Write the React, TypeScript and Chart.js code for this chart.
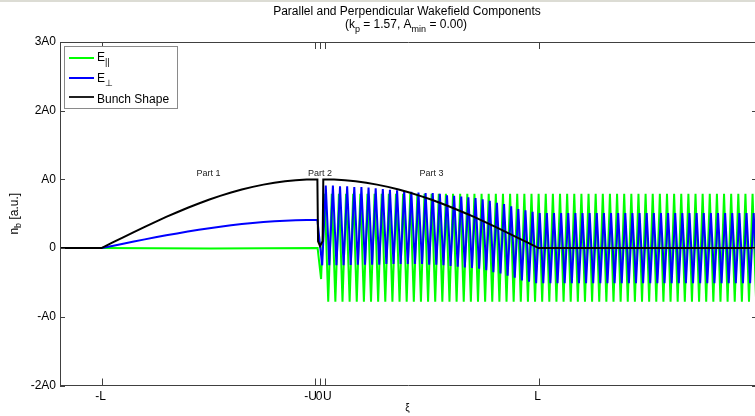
import React, { useEffect, useRef } from 'react';
import { Chart, registerables } from 'chart.js';
Chart.register(...registerables);

// ---- axis definitions (xi in units of L, n_b in units of A0) ----
const U = 0.021;
const X_MIN = -1.19;
const X_MAX = 2.0;
const Y_MIN = -2;
const Y_MAX = 3;
const xTickValues = [-1, -U, 0, U, 1];
const xTickLabels = ['-L', '-U', '0', 'U', 'L'];
const yTickValues = [-2, -1, 0, 1, 2, 3];
const yTickLabels = ['-2A0', '-A0', '0', 'A0', '2A0', '3A0'];

const partLabels = ['Part 1', 'Part 2', 'Part 3'];
const partLabelX = [-0.51, 0.0, 0.51];
const partLabelY = 1.1;

// ---- Bunch shape ----
const bunchX = [
  -1.19, -1, -0.951, -0.901, -0.852, -0.802, -0.753, -0.704, -0.654, -0.605, -0.555,
  -0.506, -0.457, -0.407, -0.358, -0.308, -0.259, -0.209, -0.16, -0.111, -0.061, -0.012,
  -0.009, 0.0, 0.012,
  0.015, 0.064, 0.114, 0.163, 0.212, 0.261, 0.311, 0.36, 0.409, 0.458, 0.508,
  0.557, 0.606, 0.655, 0.705, 0.754, 0.803, 0.852, 0.901, 0.951, 1.0, 2.0,
];
const bunchY = [
  0, 0, 0.079, 0.156, 0.233, 0.309, 0.383, 0.454, 0.522, 0.588, 0.649,
  0.707, 0.76, 0.809, 0.853, 0.891, 0.924, 0.951, 0.972, 0.988, 0.997, 1.0,
  0.1, 0.03, 0.1,
  1.0, 0.997, 0.988, 0.972, 0.951, 0.924, 0.891, 0.853, 0.809, 0.76, 0.707,
  0.649, 0.588, 0.522, 0.454, 0.383, 0.309, 0.233, 0.156, 0.079, 0.0, 0.0,
];

// ---- E perpendicular ----
const perpHeadX = [
  -1.19, -1, -0.951, -0.901, -0.852, -0.802, -0.753, -0.704, -0.654, -0.605, -0.555,
  -0.506, -0.457, -0.407, -0.358, -0.308, -0.259, -0.209, -0.16, -0.111, -0.061, -0.012,
];
const perpHeadY = [
  0, 0, 0.032, 0.064, 0.096, 0.127, 0.157, 0.186, 0.214, 0.241, 0.266,
  0.29, 0.312, 0.332, 0.35, 0.365, 0.379, 0.39, 0.399, 0.405, 0.409, 0.41,
];
const OSC_STEP = 0.01632;
const perpOscStart = 0.01;
const perpOsc = [
  -0.25, 0.91, -0.25, 0.91, -0.25, 0.9, -0.25, 0.9, -0.245, 0.89,
  -0.24, 0.89, -0.24, 0.88, -0.24, 0.87, -0.24, 0.86, -0.23, 0.85,
  -0.23, 0.84, -0.23, 0.83, -0.23, 0.82, -0.23, 0.81, -0.23, 0.8,
  -0.24, 0.8, -0.24, 0.79, -0.25, 0.77, -0.26, 0.76, -0.27, 0.75,
  -0.28, 0.74, -0.29, 0.73, -0.3, 0.71, -0.32, 0.69, -0.35, 0.66,
  -0.37, 0.64, -0.4, 0.61, -0.43, 0.57, -0.47, 0.55, -0.49, 0.53,
  -0.51, 0.51, -0.51, 0.51, -0.51, 0.51, -0.51, 0.51, -0.51, 0.51,
  -0.51, 0.51, -0.51, 0.51, -0.51, 0.51, -0.51, 0.51, -0.51, 0.51,
  -0.51, 0.51, -0.51, 0.51, -0.51, 0.51, -0.51, 0.51, -0.51, 0.51,
  -0.51, 0.51, -0.51, 0.51, -0.51, 0.51, -0.51, 0.51, -0.51, 0.51,
  -0.51, 0.51, -0.51, 0.51, -0.51, 0.51, -0.51, 0.51, -0.51, 0.51,
  -0.51, 0.51, -0.51, 0.51, -0.51, 0.51, -0.51, 0.51, -0.51, 0.51,
  -0.51, 0.51, -0.51,
];

// ---- E parallel ----
const parHeadX = [-1.19, -1, -0.5, -0.011];
const parHeadY = [0, 0, -0.005, 0];
const parOscStart = 0.005;
const parOsc = [
  -0.45, 0.79, -0.78, 0.79, -0.78, 0.79, -0.78, 0.79, -0.78, 0.79,
  -0.78, 0.79, -0.78, 0.79, -0.78, 0.79, -0.78, 0.79, -0.78, 0.79,
  -0.78, 0.79, -0.78, 0.79, -0.78, 0.79, -0.78, 0.79, -0.78, 0.79,
  -0.78, 0.79, -0.78, 0.79, -0.78, 0.79, -0.78, 0.79, -0.78, 0.79,
  -0.78, 0.79, -0.78, 0.79, -0.78, 0.79, -0.78, 0.79, -0.78, 0.79,
  -0.78, 0.79, -0.78, 0.79, -0.78, 0.79, -0.78, 0.79, -0.78, 0.79,
  -0.78, 0.79, -0.78, 0.79, -0.78, 0.79, -0.78, 0.79, -0.78, 0.79,
  -0.78, 0.79, -0.78, 0.79, -0.78, 0.79, -0.78, 0.79, -0.78, 0.79,
  -0.78, 0.79, -0.78, 0.79, -0.78, 0.79, -0.78, 0.79, -0.78, 0.79,
  -0.78, 0.79, -0.78, 0.79, -0.78, 0.79, -0.78, 0.79, -0.78, 0.79,
  -0.78, 0.79, -0.78, 0.79, -0.78, 0.79, -0.78, 0.79, -0.78, 0.79,
  -0.78, 0.79, -0.78, 0.79, -0.78, 0.79, -0.78, 0.79, -0.78, 0.79,
  -0.78, 0.79, -0.78, 0.79,
];

const FONT = '"Liberation Sans", Arial, Helvetica, sans-serif';

type Seg = { t: string; sub?: boolean };

function drawRich(
  ctx: CanvasRenderingContext2D,
  segs: Seg[],
  x: number,
  y: number,
  align: 'left' | 'center',
  size: number,
  subSize: number,
  subDy: number
) {
  ctx.textAlign = 'left';
  ctx.textBaseline = 'alphabetic';
  const widths = segs.map((s) => {
    ctx.font = `${s.sub ? subSize : size}px ${FONT}`;
    return ctx.measureText(s.t).width;
  });
  const total = widths.reduce((a, b) => a + b, 0);
  let cx = align === 'center' ? x - total / 2 : x;
  segs.forEach((s, i) => {
    ctx.font = `${s.sub ? subSize : size}px ${FONT}`;
    ctx.fillText(s.t, cx, s.sub ? y + subDy : y);
    cx += widths[i];
  });
}

const decorPlugin = {
  id: 'matlabDecor',
  beforeDraw(chart: any) {
    const ctx = chart.ctx as CanvasRenderingContext2D;
    ctx.save();
    ctx.fillStyle = '#ffffff';
    ctx.fillRect(0, 0, chart.width, chart.height);
    ctx.fillStyle = '#dcdcd4';
    ctx.fillRect(0, 0, chart.width, 2);
    ctx.restore();
  },
  afterDatasetsDraw(chart: any) {
    const ctx = chart.ctx as CanvasRenderingContext2D;
    const xs = chart.scales.x;
    const ys = chart.scales.y;
    const { left, right, top, bottom } = chart.chartArea;
    ctx.save();

    // axes box
    ctx.strokeStyle = '#404040';
    ctx.lineWidth = 1;
    ctx.beginPath();
    ctx.moveTo(left + 0.5, top + 0.5);
    ctx.lineTo(left + 0.5, bottom);
    ctx.moveTo(left, bottom);
    ctx.lineTo(right, bottom);
    ctx.moveTo(left, top + 0.5);
    ctx.lineTo(right, top + 0.5);
    ctx.moveTo(right - 0.5, top);
    ctx.lineTo(right - 0.5, bottom);
    ctx.stroke();

    // ticks (inward)
    ctx.beginPath();
    xTickValues.forEach((v) => {
      const px = Math.round(xs.getPixelForValue(v)) + 0.5;
      ctx.moveTo(px, bottom);
      ctx.lineTo(px, bottom - 7);
      ctx.moveTo(px, top);
      ctx.lineTo(px, top + 7);
    });
    yTickValues.forEach((v) => {
      const py = Math.round(ys.getPixelForValue(v)) + 0.5;
      ctx.moveTo(left, py);
      ctx.lineTo(left + 5, py);
      ctx.moveTo(right, py);
      ctx.lineTo(right - 5, py);
    });
    ctx.stroke();

    // tick labels
    ctx.fillStyle = '#000';
    ctx.font = `12px ${FONT}`;
    ctx.textBaseline = 'middle';
    ctx.textAlign = 'right';
    yTickValues.forEach((v, i) => {
      ctx.fillText(yTickLabels[i], left - 4, ys.getPixelForValue(v));
    });
    ctx.textBaseline = 'alphabetic';
    xTickValues.forEach((v, i) => {
      const px = xs.getPixelForValue(v);
      if (xTickLabels[i] === '-U') {
        ctx.textAlign = 'right';
        ctx.fillText(xTickLabels[i], px + 1.5, bottom + 14.5);
      } else if (xTickLabels[i] === 'U') {
        ctx.textAlign = 'left';
        ctx.fillText(xTickLabels[i], px - 1.5, bottom + 14.5);
      } else {
        ctx.textAlign = 'center';
        ctx.fillText(xTickLabels[i], px - 1, bottom + 14.5);
      }
    });

    // x axis title
    ctx.font = `10px ${FONT}`;
    ctx.textAlign = 'center';
    ctx.fillText('\u03be', (left + 755) / 2, 411);

    // y axis title
    ctx.save();
    ctx.translate(18, (top + bottom) / 2);
    ctx.rotate(-Math.PI / 2);
    drawRich(ctx, [{ t: 'n' }, { t: 'b', sub: true }, { t: ' [a.u.]' }], 0, 0, 'center', 12, 9, 3);
    ctx.restore();

    // part labels
    ctx.fillStyle = '#222';
    ctx.font = `9px ${FONT}`;
    ctx.textAlign = 'center';
    ctx.textBaseline = 'alphabetic';
    partLabels.forEach((t, i) => {
      ctx.fillText(t, xs.getPixelForValue(partLabelX[i]), ys.getPixelForValue(partLabelY) + 3);
    });

    // title
    ctx.fillStyle = '#000';
    drawRich(ctx, [{ t: 'Parallel and Perpendicular Wakefield Components' }], 407, 15, 'center', 12, 9, 3);
    drawRich(
      ctx,
      [
        { t: '(k' },
        { t: 'p', sub: true },
        { t: ' = 1.57, A' },
        { t: 'min', sub: true },
        { t: ' = 0.00)' },
      ],
      406,
      28,
      'center',
      12,
      9,
      3.5
    );

    // legend
    ctx.fillStyle = '#fff';
    ctx.fillRect(64, 46, 113, 62);
    ctx.strokeStyle = '#8a8a8a';
    ctx.lineWidth = 1;
    ctx.strokeRect(64.5, 46.5, 113, 62);
    const entries = [
      { color: '#00ff00', ly: 58, ty: 61, segs: [{ t: 'E' }, { t: '||', sub: true }] },
      { color: '#0000ff', ly: 78, ty: 82, segs: [{ t: 'E' }, { t: '\u22a5', sub: true }] },
      { color: '#202020', ly: 97, ty: 103, segs: [{ t: 'Bunch Shape' }] },
    ];
    entries.forEach((e) => {
      ctx.strokeStyle = e.color;
      ctx.lineWidth = 2;
      ctx.beginPath();
      ctx.moveTo(69, e.ly);
      ctx.lineTo(94, e.ly);
      ctx.stroke();
      ctx.fillStyle = '#000';
      drawRich(ctx, e.segs, 97, e.ty, 'left', 12, 9, 4);
    });

    ctx.restore();
  },
};

export default function App() {
  const canvasRef = useRef<HTMLCanvasElement | null>(null);

  useEffect(() => {
    const canvas = canvasRef.current;
    if (!canvas) return;
    const bunchData = bunchX.map((x, i) => ({ x, y: bunchY[i] }));
    const perpData = [
      ...perpHeadX.map((x, i) => ({ x, y: perpHeadY[i] })),
      ...perpOsc.map((y, i) => ({ x: perpOscStart + i * OSC_STEP, y })),
    ];
    const parData = [
      ...parHeadX.map((x, i) => ({ x, y: parHeadY[i] })),
      ...parOsc.map((y, i) => ({ x: parOscStart + i * OSC_STEP, y })),
    ];
    const chart = new Chart(canvas, {
      type: 'line',
      data: {
        datasets: [
          {
            label: 'Bunch Shape',
            data: bunchData,
            borderColor: '#000000',
            borderWidth: 2,
            pointRadius: 0,
            tension: 0,
          },
          {
            label: 'E_perp',
            data: perpData,
            borderColor: '#0000ff',
            borderWidth: 2,
            pointRadius: 0,
            tension: 0,
          },
          {
            label: 'E_par',
            data: parData,
            borderColor: '#00ff00',
            borderWidth: 2,
            pointRadius: 0,
            tension: 0,
          },
        ],
      },
      options: {
        responsive: false,
        maintainAspectRatio: false,
        devicePixelRatio: 1,
        animation: false,
        events: [],
        layout: { padding: { left: 60, top: 42, right: 3, bottom: 30.5 } },
        scales: {
          x: { type: 'linear', display: false, min: X_MIN, max: X_MAX },
          y: { type: 'linear', display: false, min: Y_MIN, max: Y_MAX },
        },
        plugins: {
          legend: { display: false },
          tooltip: { enabled: false },
          title: { display: false },
        },
      },
      plugins: [decorPlugin],
    });
    return () => chart.destroy();
  }, []);

  return (
    <div
      style={{
        position: 'fixed',
        left: 0,
        top: 0,
        width: 755,
        height: 416,
        overflow: 'hidden',
        background: '#fff',
      }}
    >
      <canvas ref={canvasRef} width={760} height={416} style={{ display: 'block' }} />
    </div>
  );
}
